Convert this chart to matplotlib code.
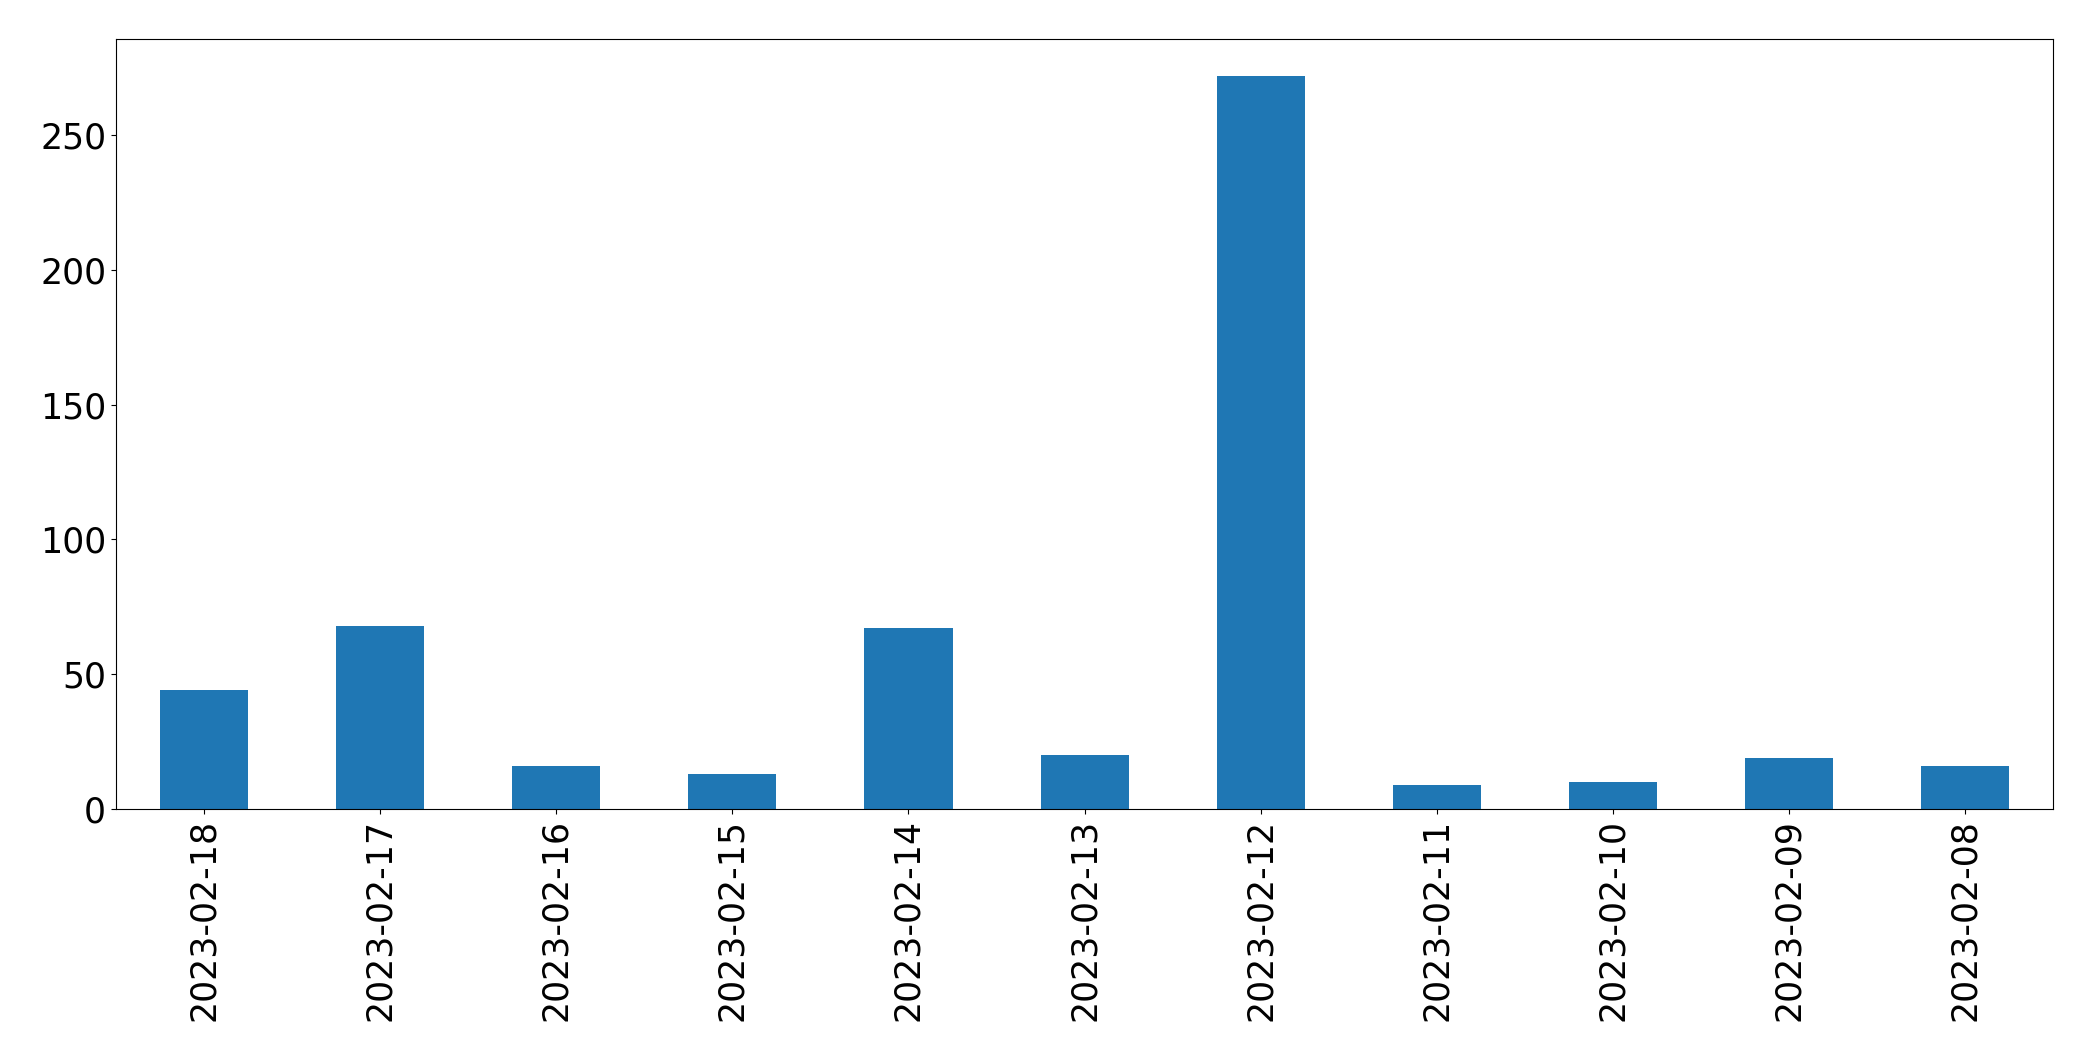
import matplotlib
matplotlib.use("Agg")
import matplotlib.pyplot as plt
import numpy as np

dates = ["2023-02-18", "2023-02-17", "2023-02-16", "2023-02-15", "2023-02-14",
         "2023-02-13", "2023-02-12", "2023-02-11", "2023-02-10", "2023-02-09",
         "2023-02-08"]
counts = [44, 68, 16, 13, 67, 20, 272, 9, 10, 19, 16]

fig = plt.figure(figsize=(20.93, 10.61), dpi=100)
ax = fig.add_axes([0.0554, 0.2375, 0.9256, 0.7255])

x = np.arange(len(dates))
ax.bar(x, counts, width=0.5, color="#1f77b4")
ax.set_xlim(-0.5, len(dates) - 0.5)
ax.set_ylim(0, max(counts) * 1.05)
ax.set_xticks(x)
ax.set_xticklabels(dates, rotation=90)
ax.tick_params(labelsize=25)

fig.savefig("out.png", dpi=100)
